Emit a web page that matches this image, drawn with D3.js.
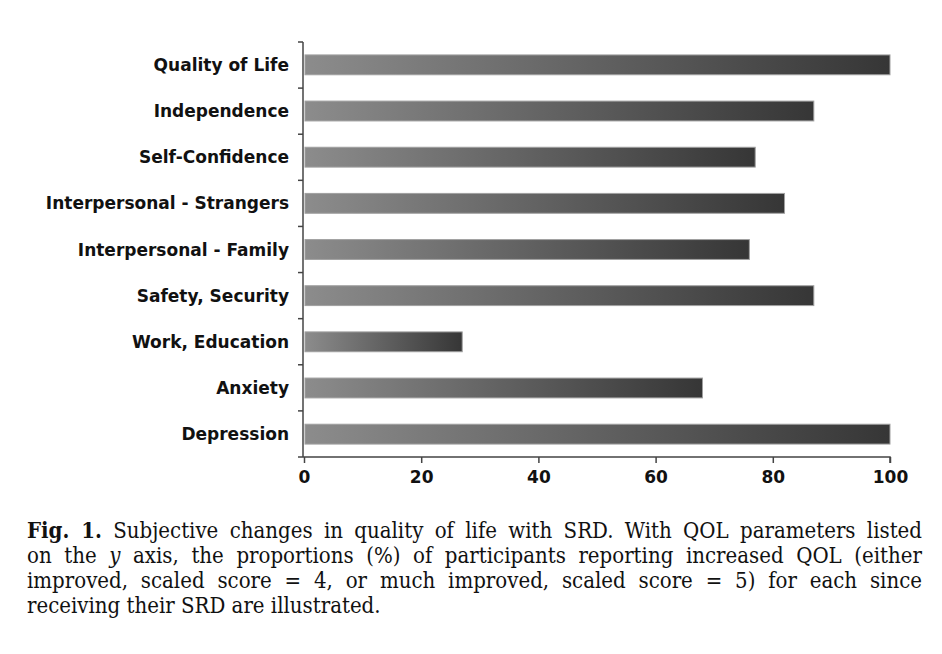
<!DOCTYPE html>
<meta charset="utf-8">
<style>
body { margin:0; background:white; }
.cat text, .xax text { font-family: "DejaVu Sans", Arial, sans-serif; font-weight:bold; font-size:17px; fill:#111; }
.caption { font-family: "DejaVu Serif Condensed", "DejaVu Serif", serif; font-stretch: condensed; font-size:22px; fill:#111; }
</style>
<script src="https://d3js.org/d3.v7.min.js"></script>
<div id="chart"></div>
<script>
// categories and values (% reporting increased QOL)
var categories = ["Quality of Life", "Independence", "Self-Confidence", "Interpersonal - Strangers",
  "Interpersonal - Family", "Safety, Security", "Work, Education", "Anxiety", "Depression"];
var values = [100, 87, 77, 82, 76, 87, 27, 68, 100];
var xTicks = [0, 20, 40, 60, 80, 100];

var captionLines = [
  ["Fig. 1.", " Subjective changes in quality of life with SRD. With QOL parameters listed"],
  ["", "on the |y| axis, the proportions (%) of participants reporting increased QOL (either"],
  ["", "improved, scaled score = 4, or much improved, scaled score = 5) for each since"],
  ["", "receiving their SRD are illustrated."]
];

var W = 942, H = 654;
var mLeft = 304, mRight = 890, mTop = 42, mBottom = 457;

var svg = d3.select("#chart").append("svg")
  .attr("width", W).attr("height", H);

var grad = svg.append("defs").append("linearGradient")
  .attr("id", "barGrad").attr("x1", "0").attr("x2", "1").attr("y1", "0").attr("y2", "0");
grad.append("stop").attr("offset", "0%").attr("stop-color", "#8c8c8c");
grad.append("stop").attr("offset", "100%").attr("stop-color", "#363636");

var x = d3.scaleLinear().domain([0, 100]).range([mLeft, mRight]);
var y = d3.scaleBand().domain(categories).range([mTop, mBottom]).paddingInner(0.57).paddingOuter(0.28);

// bars
svg.selectAll("rect.bar")
  .data(categories)
  .enter().append("rect")
    .attr("class", "bar")
    .attr("x", x(0) + 1)
    .attr("y", function(d) { return y(d); })
    .attr("width", function(d, i) { return x(values[i]) - x(0) - 1; })
    .attr("height", y.bandwidth())
    .attr("fill", "url(#barGrad)")
    .attr("stroke", "#a0a0a0")
    .attr("stroke-width", 1);

// y axis line with ticks between categories
var axCol = "#444";
var yax = svg.append("g").attr("class", "cat");
yax.append("line").attr("x1", mLeft - 1).attr("x2", mLeft - 1).attr("y1", mTop).attr("y2", mBottom)
  .attr("stroke", axCol).attr("stroke-width", 1.5);
d3.range(0, categories.length + 1).forEach(function(k) {
  var yy = mTop + (mBottom - mTop) * k / categories.length;
  yax.append("line").attr("x1", mLeft - 6).attr("x2", mLeft - 1).attr("y1", yy).attr("y2", yy)
    .attr("stroke", axCol).attr("stroke-width", 1.5);
});
yax.selectAll("text.lbl")
  .data(categories)
  .enter().append("text")
    .attr("x", 289)
    .attr("y", function(d) { return y(d) + y.bandwidth() / 2; })
    .attr("dy", "0.36em")
    .attr("text-anchor", "end")
    .text(function(d) { return d; });

// x axis
var xAxis = d3.axisBottom(x).tickValues(xTicks).tickSize(6).tickPadding(8).tickFormat(d3.format("d"));
var gx = svg.append("g").attr("class", "xax")
  .attr("transform", "translate(0," + mBottom + ")")
  .call(xAxis);
gx.select(".domain").attr("stroke", axCol).attr("stroke-width", 1.5)
  .attr("d", "M" + (mLeft - 1) + ",0H" + mRight + "V6");
gx.selectAll(".tick line").attr("stroke", axCol).attr("stroke-width", 1.5);
gx.selectAll(".tick text").attr("font-family", null).attr("font-size", null);

// caption, justified by widening the word gaps
var cap = svg.append("g").attr("class", "caption");
captionLines.forEach(function(l, i) {
  var t = cap.append("text").attr("x", 27).attr("y", 538 + i * 25);
  if (l[0]) t.append("tspan").attr("font-weight", "bold").text(l[0]);
  l[1].split("|").forEach(function(p, j) {
    var s = t.append("tspan").text(p);
    if (j % 2 == 1) s.attr("font-style", "italic");
  });
  if (i < 3) {
    var w = t.node().getComputedTextLength();
    var gaps = (l[0] + l[1]).split(" ").length - 1;
    t.attr("word-spacing", (895 - w) / gaps);
  }
});
</script>
